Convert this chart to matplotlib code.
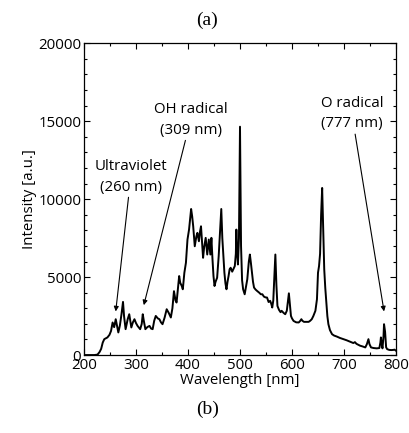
import matplotlib.pyplot as plt
from matplotlib.ticker import MultipleLocator

# emission spectrum read point by point
wavelength = [200, 210, 220, 226, 230, 233, 236, 239, 245, 249, 252, 255, 258, 261, 264, 266,
              269, 272, 275, 277, 280, 284, 287, 291, 294, 297, 300, 303, 308, 311, 313, 315,
              318, 322, 326, 329, 332, 335, 338, 342, 345, 348, 351, 355, 359, 363, 367, 370,
              373, 376, 378, 383, 385, 388, 390, 393, 396, 399, 402, 404, 406, 408, 410, 413,
              416, 418, 421, 423, 425, 427, 429, 431, 434, 437, 440, 443, 445, 447, 449, 451,
              453, 456, 459, 462, 464, 466, 468, 470, 472, 474, 476, 478, 480, 482, 485, 487,
              490, 492, 493, 494, 496, 498, 500, 502, 504, 506, 509, 512, 514, 517, 519, 521,
              523, 525, 527, 530, 533, 537, 540, 543, 546, 549, 552, 555, 558, 560, 562, 564,
              566, 568, 570, 572, 575, 578, 580, 584, 587, 590, 592, 594, 596, 598, 600, 603,
              608, 613, 616, 618, 620, 623, 628, 632, 635, 638, 641, 645, 648, 650, 652, 654,
              656, 658, 660, 662, 664, 666, 668, 670, 673, 677, 681, 686, 692, 699, 705, 712,
              718, 721, 724, 731, 736, 741, 744, 747, 749, 752, 757, 763, 768, 770, 771, 772,
              774, 776, 777, 779, 781, 783, 787, 791, 795, 797, 800]
intensity = [0, 0, 0, 30, 200, 400, 800, 1020, 1130, 1300, 1550, 2090, 1790, 2300, 1800, 1450,
             1900, 2600, 3410, 2500, 1660, 2300, 2620, 1770, 2100, 2300, 2050, 1870, 1660, 2000, 2620, 2200,
             1660, 1800, 1870, 1700, 1660, 2200, 2510, 2350, 2300, 2100, 1980, 2400, 2940, 2700, 2410, 3000,
             4100, 3500, 3370, 5070, 4640, 4430, 4220, 5280, 5920, 7410, 8050, 8700, 9370, 8900, 8260, 6980,
             7600, 7840, 7300, 7900, 8260, 7200, 6240, 6900, 7520, 6450, 7410, 6450, 7520, 6200, 5070, 4430,
             4700, 4960, 6340, 8200, 9370, 7500, 6340, 5280, 4600, 4220, 4700, 5070, 5500, 5600, 5350, 5500,
             5710, 6500, 8050, 7000, 5810, 7500, 14650, 7000, 4800, 4220, 3900, 4500, 4860, 6000, 6450, 5900,
             5280, 4700, 4330, 4200, 4110, 4000, 3900, 3900, 3750, 3700, 3690, 3400, 3480, 3300, 3050, 3500,
             5000, 6450, 4500, 3150, 2900, 2750, 2840, 2700, 2620, 2840, 3400, 3960, 3200, 2510, 2350, 2190,
             2100, 2090, 2200, 2300, 2200, 2130, 2130, 2130, 2200, 2300, 2500, 2840, 3580, 5280, 5710, 6500,
             9000, 10720, 8000, 5500, 4300, 3400, 2500, 1980, 1600, 1340, 1250, 1190, 1100, 1020, 950, 850,
             770, 830, 720, 600, 550, 490, 700, 1020, 700, 490, 450, 430, 450, 800, 1130, 800,
             430, 1200, 1980, 1500, 500, 380, 330, 320, 330, 350, 280]

# labelled lines: text, arrow tip and text anchor in data units
labels = ["Ultraviolet\n(260 nm)", "OH radical\n(309 nm)", "O radical\n(777 nm)"]
tips = [(261, 2800), (315, 3200), (777, 2800)]
anchors = [(290, 10300), (405, 13950), (715, 14350)]

font = "Open Sans"
fs = 10.8

fig = plt.figure(figsize=(4.09, 4.33), dpi=100)
ax = fig.add_axes([0.2054, 0.180, 0.7628, 0.720])

ax.plot(wavelength, intensity, color="black", lw=1.4)

ax.set_xlim(200, 800)
ax.set_ylim(0, 20000)
ax.xaxis.set_major_locator(MultipleLocator(100))
ax.xaxis.set_minor_locator(MultipleLocator(50))
ax.yaxis.set_major_locator(MultipleLocator(5000))
ax.yaxis.set_minor_locator(MultipleLocator(1000))
ax.tick_params(which="both", direction="in", top=True, right=True, labelsize=fs, pad=2)
ax.tick_params(which="major", length=4, width=0.8)
ax.tick_params(which="minor", length=2.5, width=0.8)
for sp in ax.spines.values():
    sp.set_linewidth(0.9)
for lab in ax.get_xticklabels() + ax.get_yticklabels():
    lab.set_family(font)

ax.set_xlabel("Wavelength [nm]", family=font, fontsize=fs, labelpad=0)
ax.set_ylabel("Intensity [a.u.]", family=font, fontsize=fs, labelpad=1)

for txt, tip, anc in zip(labels, tips, anchors):
    ax.annotate(txt, xy=tip, xytext=anc, ha="center", va="bottom",
                family=font, fontsize=fs, linespacing=1.5,
                arrowprops=dict(arrowstyle="-|>", color="black", lw=0.8,
                                mutation_scale=7, shrinkA=0, shrinkB=0))

fig.text(0.506, 0.952, "(a)", ha="center", va="center", family="Liberation Serif", fontsize=14)
fig.text(0.508, 0.054, "(b)", ha="center", va="center", family="Liberation Serif", fontsize=14)

plt.savefig("out.png", dpi=100)
